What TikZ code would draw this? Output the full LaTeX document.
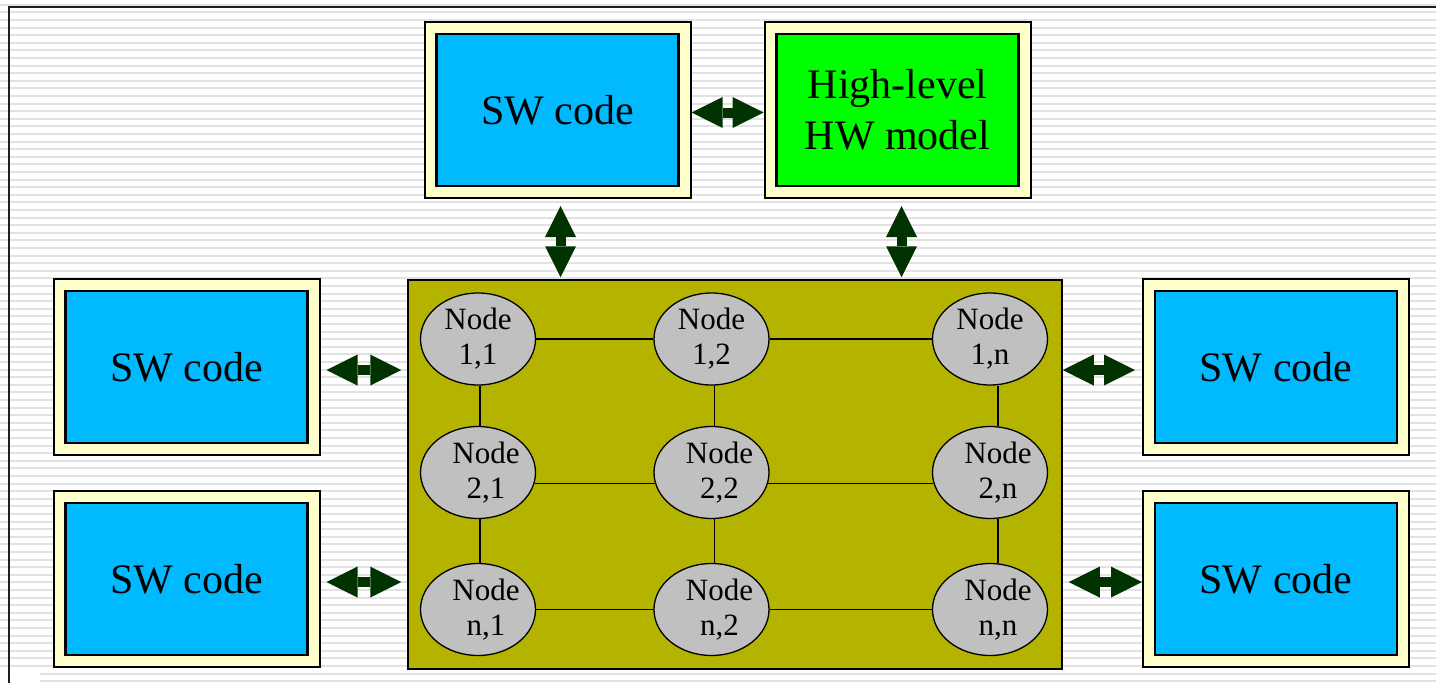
\documentclass[tikz,border=0pt]{standalone}
\usepackage{fontspec}
\setmainfont{Liberation Serif}
\usetikzlibrary{arrows.meta,shapes.geometric}

\definecolor{swblue}{HTML}{00B9FF}
\definecolor{hwgreen}{HTML}{00FF00}
\definecolor{paleyellow}{HTML}{FFFFCC}
\definecolor{mesholive}{HTML}{B4B400}
\definecolor{pegray}{HTML}{C0C0C0}
\definecolor{arrowgreen}{HTML}{003300}
\definecolor{stripegray}{HTML}{E2E2E2}
\definecolor{framegray}{HTML}{1E1E1E}

% text nudged to the right inside the lower ellipses
\newcommand{\offtext}[1]{\makebox[0pt]{\hspace*{16pt}#1}}

\begin{document}
\begin{tikzpicture}[x=1pt,y=-1pt,
  stripe/.style={draw=stripegray,line width=2pt},
  boxframe/.style={draw=black,line width=2pt,fill=paleyellow,
    minimum width=266pt,minimum height=176pt,inner sep=0pt},
  panel/.style={draw=black,line width=2.7pt,minimum width=242pt,
    minimum height=152pt,inner sep=0pt,align=center,
    font=\fontsize{42}{51}\selectfont},
  pe/.style={ellipse,draw=black,line width=1.3pt,fill=pegray,
    minimum width=115pt,minimum height=92pt,inner sep=0pt,align=center,
    font=\fontsize{31}{35}\selectfont},
  link/.style={draw=black,line width=1.3pt},
  dblarrow/.style={draw=arrowgreen,line width=10pt,
    {Triangle[length=31pt,width=31pt,line width=0pt]}-{Triangle[length=31pt,width=31pt,line width=0pt]}}
]
\useasboundingbox (0,0) rectangle (1436,683);
\clip (0,0) rectangle (1436,683);

% striped backdrop and slide frame
\fill[white] (0,0) rectangle (1436,683);
\foreach \k in {0,...,89}
  \draw[stripe] (0,{4.7+7.6*\k}) -- (1436,{4.7+7.6*\k});
\fill[white] (0,668) rectangle (40,683);
\draw[framegray,line width=2.2pt] (9,683) -- (9,7) -- (1436,7);

% software / model boxes
\node[boxframe] (swTopF) at (557.5,110) {};
\node[panel,fill=swblue] (swTop) at (swTopF) {SW code};
\node[boxframe] (hwF) at (897.5,110) {};
\node[panel,fill=hwgreen] (hw) at (hwF) {High-level\\HW model};
\node[boxframe] (swL1F) at (186.5,367) {};
\node[panel,fill=swblue] (swL1) at (swL1F) {SW code};
\node[boxframe] (swL2F) at (186.5,579) {};
\node[panel,fill=swblue] (swL2) at (swL2F) {SW code};
\node[boxframe] (swR1F) at (1276,367) {};
\node[panel,fill=swblue] (swR1) at (swR1F) {SW code};
\node[boxframe] (swR2F) at (1276,579) {};
\node[panel,fill=swblue] (swR2) at (swR2F) {SW code};

% mesh of processing elements
\node[draw=black,line width=1.5pt,fill=mesholive,minimum width=654pt,
  minimum height=389pt,inner sep=0pt] (mesh) at (735,474.5) {};

\node[pe] (n11) at (478,339) {Node\\1,1};
\node[pe] (n12) at (711.5,339) {Node\\1,2};
\node[pe] (n1n) at (990,339) {Node\\1,n};
\node[pe] (n21) at (478,472.5) {\offtext{Node}\\\offtext{2,1}};
\node[pe] (n22) at (711.5,472.5) {\offtext{Node}\\\offtext{2,2}};
\node[pe] (n2n) at (990,472.5) {\offtext{Node}\\\offtext{2,n}};
\node[pe] (nn1) at (478,609.5) {\offtext{Node}\\\offtext{n,1}};
\node[pe] (nn2) at (711.5,609.5) {\offtext{Node}\\\offtext{n,2}};
\node[pe] (nnn) at (990,609.5) {\offtext{Node}\\\offtext{n,n}};

% mesh links
\draw[link] (n11) -- (n12);
\draw[link] (n12) -- (n1n);
\draw[link] (n21.-11) -- (n22.191);
\draw[link] (n22.-11) -- (n2n.191);
\draw[link] (nn1) -- (nn2);
\draw[link] (nn2) -- (nnn);
\draw[link] ([xshift=2pt]n11.south) -- ([xshift=2pt]n21.north);
\draw[link] ([xshift=2pt]n21.south) -- ([xshift=2pt]nn1.north);
\draw[link] ([xshift=3pt]n12.south) -- ([xshift=3pt]n22.north);
\draw[link] ([xshift=3pt]n22.south) -- ([xshift=3pt]nn2.north);
\draw[link] ([xshift=8pt]n1n.south) -- ([xshift=8pt]n2n.north);
\draw[link] ([xshift=8pt]n2n.south) -- ([xshift=8pt]nnn.north);

% bidirectional interfaces
\draw[dblarrow] ([yshift=-2.5pt]swTopF.east) -- ([yshift=-2.5pt]hwF.west);
\draw[dblarrow,shorten <=7pt,shorten >=2pt]
  ([xshift=3pt]swTopF.south) -- ([xshift=3pt]swTopF.south |- mesh.north);
\draw[dblarrow,shorten <=7pt,shorten >=2pt]
  ([xshift=4pt]hwF.south) -- ([xshift=4pt]hwF.south |- mesh.north);
\draw[dblarrow,shorten <=6pt,shorten >=6pt]
  ([yshift=-3pt]swL1F.east) -- ([yshift=-3pt]swL1F.east -| mesh.west);
\draw[dblarrow,shorten <=6pt,shorten >=6pt]
  ([yshift=-3pt]swL2F.east) -- ([yshift=-3pt]swL2F.east -| mesh.west);
\draw[dblarrow,shorten >=7pt]
  ([yshift=-3pt]swR1F.west -| mesh.east) -- ([yshift=-3pt]swR1F.west);
\draw[dblarrow,shorten <=6pt]
  ([yshift=-3pt]swR2F.west -| mesh.east) -- ([yshift=-3pt]swR2F.west);
\end{tikzpicture}
\end{document}
